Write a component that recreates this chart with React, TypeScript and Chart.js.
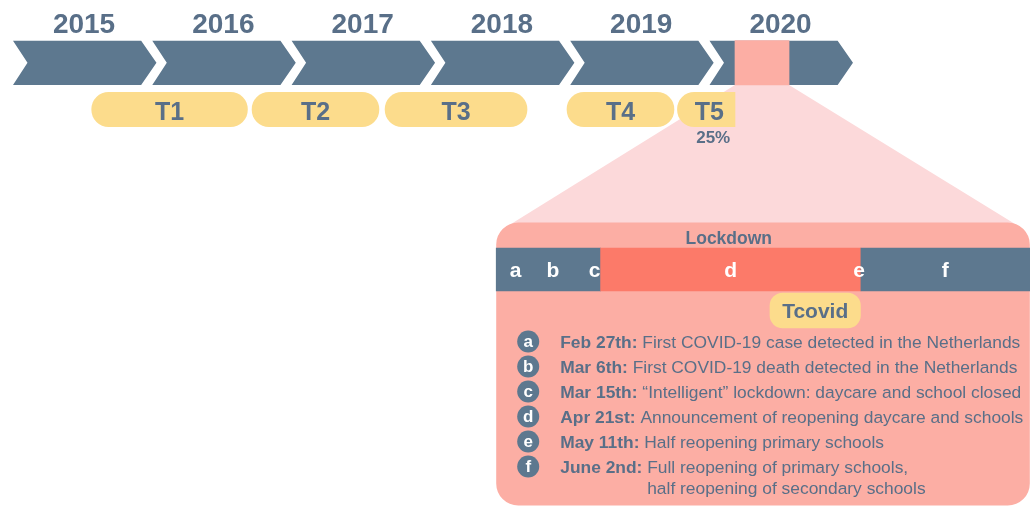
import React, { useEffect, useRef } from "react";
import { Chart, registerables } from "chart.js";

Chart.register(...registerables);

// ---- Top timeline (x axis: calendar years) ----
const years = [2015, 2016, 2017, 2018, 2019, 2020];
const waveLabels = ["T1", "T2", "T3", "T4", "T5"];
const waveStart = [2015.565, 2016.716, 2017.671, 2018.977, 2019.77];
const waveEnd = [2016.683, 2017.627, 2018.69, 2019.745, 2020.183];
const t5Share = "25%";
const covidWindow = [2020.183, 2020.571];

// ---- Zoomed 2020 panel (x2 axis: day of year 2020) ----
const panelDays = [53.8, 168.8];
const phaseNames = ["before", "Lockdown", "after"];
const phaseBounds = [53.8, 76.3, 132.4, 168.8];
const eventLetters = ["a", "b", "c", "d", "e", "f"];
const eventDays = [58, 66, 75, 112, 132, 154];
const eventDates = ["Feb 27th:", "Mar 6th:", "Mar 15th:", "Apr 21st:", "May 11th:", "June 2nd:"];
const eventTexts = [
  "First COVID-19 case detected in the Netherlands",
  "First COVID-19 death detected in the Netherlands",
  "\u201cIntelligent\u201d lockdown: daycare and school closed",
  "Announcement of reopening daycare and schools",
  "Half reopening primary schools",
  "Full reopening of primary schools,",
];
const eventTextsCont = ["", "", "", "", "", "half reopening of secondary schools"];
const tcovidLabel = "Tcovid";
const tcovidDays = [112.8, 132.3];

// ---- styles ----
const SLATE = "#5d788f";
const TEXT = "#596f88";
const YELLOW = "#fcdc8c";
const SALMON = "#fcaea4";
const LIGHT_PINK = "#fcd9da";
const RED = "#fc7a69";
const FONT = '"Liberation Sans", Arial, Helvetica, sans-serif';

const YEAR_PX = 139.3;
const YEAR_ORIGIN_PX = 13;
const DAY_PX = 4.64;
const DAY_ORIGIN = 58;
const DAY_ORIGIN_PX = 515.7;
const W = 1030;
const H = 508;

function roundRectPath(ctx: CanvasRenderingContext2D, x: number, y: number, w: number, h: number, r: number) {
  ctx.beginPath();
  ctx.moveTo(x + r, y);
  ctx.lineTo(x + w - r, y);
  ctx.arcTo(x + w, y, x + w, y + r, r);
  ctx.lineTo(x + w, y + h - r);
  ctx.arcTo(x + w, y + h, x + w - r, y + h, r);
  ctx.lineTo(x + r, y + h);
  ctx.arcTo(x, y + h, x, y + h - r, r);
  ctx.lineTo(x, y + r);
  ctx.arcTo(x, y, x + r, y, r);
  ctx.closePath();
}

const diagramPlugin = {
  id: "diagram",
  beforeDatasetsDraw(chart: any) {
    const { ctx } = chart;
    const xs = chart.scales.x;
    const x2 = chart.scales.x2;
    const ys = chart.scales.y;
    ctx.save();
    // chevrons
    const top = ys.getPixelForValue(40.7);
    const bot = ys.getPixelForValue(85);
    const mid = (top + bot) / 2;
    ctx.fillStyle = SLATE;
    years.forEach((yr) => {
      const l = xs.getPixelForValue(yr);
      const tr = xs.getPixelForValue(yr + 0.92);
      const tip = xs.getPixelForValue(yr + 1.03);
      const notch = xs.getPixelForValue(yr + 0.104);
      ctx.beginPath();
      ctx.moveTo(l, top);
      ctx.lineTo(tr, top);
      ctx.lineTo(tip, mid);
      ctx.lineTo(tr, bot);
      ctx.lineTo(l, bot);
      ctx.lineTo(notch, mid);
      ctx.closePath();
      ctx.fill();
    });
    // zoom trapezoid
    const pTop = ys.getPixelForValue(222.5);
    const pBot = ys.getPixelForValue(505.5);
    const pL = x2.getPixelForValue(panelDays[0]);
    const pR = x2.getPixelForValue(panelDays[1]);
    ctx.fillStyle = LIGHT_PINK;
    ctx.beginPath();
    ctx.moveTo(xs.getPixelForValue(covidWindow[0]), bot);
    ctx.lineTo(xs.getPixelForValue(covidWindow[1]), bot);
    ctx.lineTo(pR - 14, pTop + 2);
    ctx.lineTo(pL + 14, pTop + 2);
    ctx.closePath();
    ctx.fill();
    // panel
    ctx.fillStyle = SALMON;
    roundRectPath(ctx, pL, pTop, pR - pL, pBot - pTop, 22);
    ctx.fill();
    ctx.restore();
  },
  afterDatasetsDraw(chart: any) {
    const { ctx } = chart;
    const xs = chart.scales.x;
    const x2 = chart.scales.x2;
    const ys = chart.scales.y;
    ctx.save();
    ctx.textAlign = "center";
    ctx.textBaseline = "alphabetic";
    // years
    ctx.fillStyle = TEXT;
    ctx.font = `bold 28px ${FONT}`;
    years.forEach((yr) => {
      ctx.fillText(String(yr), xs.getPixelForValue(yr + 0.51), ys.getPixelForValue(32.5));
    });
    // wave labels
    ctx.font = `bold 25px ${FONT}`;
    waveLabels.forEach((lab, i) => {
      const c = xs.getPixelForValue((waveStart[i] + waveEnd[i]) / 2);
      ctx.fillText(lab, c + (i === 4 ? 3 : 0), ys.getPixelForValue(119.5));
    });
    ctx.font = `bold 17px ${FONT}`;
    const t5c = xs.getPixelForValue((waveStart[4] + waveEnd[4]) / 2);
    ctx.fillText(t5Share, t5c + 7, ys.getPixelForValue(142.5));
    // Lockdown title
    ctx.font = `bold 17.5px ${FONT}`;
    ctx.fillText(phaseNames[1], x2.getPixelForValue((phaseBounds[1] + phaseBounds[2]) / 2) - 2, ys.getPixelForValue(243.5));
    // letters in bar
    ctx.fillStyle = "#ffffff";
    ctx.font = `bold 21px ${FONT}`;
    eventLetters.forEach((l, i) => {
      let d = eventDays[i];
      if (i === 3) d = (phaseBounds[1] + phaseBounds[2]) / 2;
      if (i === 5) d = (phaseBounds[2] + phaseBounds[3]) / 2;
      ctx.fillText(l, x2.getPixelForValue(d), ys.getPixelForValue(276.5));
    });
    // Tcovid
    ctx.fillStyle = TEXT;
    ctx.font = `bold 21px ${FONT}`;
    ctx.fillText(tcovidLabel, x2.getPixelForValue((tcovidDays[0] + tcovidDays[1]) / 2), ys.getPixelForValue(317.5));
    // event list
    const pL = x2.getPixelForValue(panelDays[0]);
    const cx = pL + 32;
    const tx = pL + 64;
    eventLetters.forEach((l, i) => {
      const cy = ys.getPixelForValue(341.5 + i * 25);
      const base = ys.getPixelForValue(347.8 + i * 25);
      ctx.fillStyle = SLATE;
      ctx.beginPath();
      ctx.arc(cx, cy, 11, 0, Math.PI * 2);
      ctx.fill();
      ctx.fillStyle = "#ffffff";
      ctx.font = `bold 17px ${FONT}`;
      ctx.textAlign = "center";
      ctx.textBaseline = "middle";
      ctx.fillText(l, cx, cy + 0.5);
      ctx.textBaseline = "alphabetic";
      ctx.textAlign = "left";
      ctx.fillStyle = TEXT;
      ctx.font = `bold 17.4px ${FONT}`;
      ctx.fillText(eventDates[i], tx, base);
      const bw = ctx.measureText(eventDates[i] + " ").width;
      ctx.font = `17.4px ${FONT}`;
      ctx.fillText(eventTexts[i], tx + bw, base);
      if (eventTextsCont[i]) {
        ctx.fillText(eventTextsCont[i], tx + bw, base + 21);
      }
    });
    ctx.restore();
  },
};

export default function App() {
  const ref = useRef<HTMLCanvasElement | null>(null);
  useEffect(() => {
    if (!ref.current) return;
    const chart = new Chart(ref.current, {
      type: "bar",
      data: {
        datasets: [
          {
            label: "waves",
            xAxisID: "x",
            yAxisID: "y",
            data: waveStart.map((s, i) => ({ x: [s, waveEnd[i]], y: 109.5 })) as any,
            backgroundColor: YELLOW,
            barThickness: 34.5,
            grouped: false,
            borderSkipped: false,
            borderWidth: 0,
            borderRadius: (c: any) =>
              c.dataIndex === 4 ? { topLeft: 17, bottomLeft: 17, topRight: 0, bottomRight: 0 } : 17.25,
          } as any,
          {
            label: "covid window",
            xAxisID: "x",
            yAxisID: "y",
            data: [{ x: covidWindow, y: 62.85 }] as any,
            backgroundColor: SALMON,
            barThickness: 44.3,
            grouped: false,
            borderSkipped: false,
            borderWidth: 0,
          } as any,
          {
            label: "phases",
            xAxisID: "x2",
            yAxisID: "y",
            data: phaseNames.map((_, i) => ({ x: [phaseBounds[i], phaseBounds[i + 1]], y: 269.5 })) as any,
            backgroundColor: [SLATE, RED, SLATE],
            barThickness: 43,
            grouped: false,
            borderSkipped: false,
            borderWidth: 0,
          } as any,
          {
            label: tcovidLabel,
            xAxisID: "x2",
            yAxisID: "y",
            data: [{ x: tcovidDays, y: 310.5 }] as any,
            backgroundColor: YELLOW,
            barThickness: 35,
            grouped: false,
            borderSkipped: false,
            borderWidth: 0,
            borderRadius: 13,
          } as any,
        ],
      },
      options: {
        indexAxis: "y",
        responsive: false,
        animation: false,
        events: [],
        layout: { padding: 0 },
        plugins: { legend: { display: false }, tooltip: { enabled: false }, title: { display: false } },
        scales: {
          x: {
            type: "linear",
            display: false,
            offset: false,
            min: 2015 - YEAR_ORIGIN_PX / YEAR_PX,
            max: 2015 + (W - YEAR_ORIGIN_PX) / YEAR_PX,
          },
          x2: {
            type: "linear",
            axis: "x",
            position: "bottom",
            display: false,
            offset: false,
            min: DAY_ORIGIN - DAY_ORIGIN_PX / DAY_PX,
            max: DAY_ORIGIN + (W - DAY_ORIGIN_PX) / DAY_PX,
          },
          y: {
            type: "linear",
            display: false,
            offset: false,
            reverse: true,
            min: 0,
            max: H,
          },
        },
      } as any,
      plugins: [diagramPlugin],
    });
    return () => chart.destroy();
  }, []);
  return (
    <div style={{ position: "absolute", left: 0, top: 0, width: W, height: H, background: "#ffffff" }}>
      <canvas ref={ref} width={W} height={H} style={{ display: "block", width: W, height: H }} />
    </div>
  );
}
